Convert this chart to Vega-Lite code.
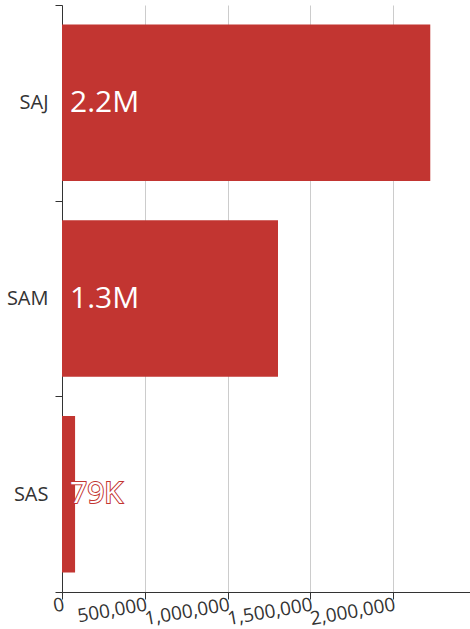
{
  "$schema": "https://vega.github.io/schema/vega-lite/v6.json",
  "width": 408,
  "height": 587,
  "autosize": "none",
  "padding": {"left": 62, "top": 5, "right": 0, "bottom": 37},
  "config": {"view": {"stroke": null}, "font": "Open Sans"},
  "data": {
    "values": [
      {"code": "SAJ", "value": 2225000, "label": "2.2M"},
      {"code": "SAM", "value": 1305000, "label": "1.3M"},
      {"code": "SAS", "value": 79000, "label": "79K"}
    ]
  },
  "encoding": {
    "y": {
      "field": "code",
      "type": "nominal",
      "sort": null,
      "scale": {"paddingInner": 0, "paddingOuter": 0},
      "axis": {
        "title": null,
        "tickBand": "extent",
        "ticks": true,
        "tickSize": 7,
        "tickColor": "#333",
        "domainColor": "#333",
        "labelFontSize": 20,
        "labelColor": "#333",
        "labelPadding": 7,
        "grid": false
      }
    }
  },
  "layer": [
    {
      "mark": {"type": "bar", "color": "#c23531", "height": {"band": 0.8}},
      "encoding": {
        "x": {
          "field": "value",
          "type": "quantitative",
          "scale": {"domain": [0, 2465000], "nice": false},
          "axis": {
            "title": null,
            "values": [0, 500000, 1000000, 1500000, 2000000],
            "format": ",d",
            "labelAngle": -10,
            "labelAlign": "right",
            "labelBaseline": "top",
            "labelFontSize": 19,
            "labelColor": "#333",
            "labelPadding": -4,
            "labelOverlap": false,
            "labelFlush": false,
            "labelBound": false,
            "domainColor": "#333",
            "tickColor": "#333",
            "tickSize": 7,
            "grid": true,
            "gridColor": "#ccc"
          }
        }
      }
    },
    {
      "mark": {
        "type": "text",
        "align": "left",
        "baseline": "middle",
        "dx": 8,
        "fontSize": 30,
        "fill": "#ffffff",
        "stroke": "#c23531",
        "strokeWidth": 2
      },
      "encoding": {
        "x": {"datum": 0, "type": "quantitative"},
        "text": {"field": "label"}
      }
    },
    {
      "mark": {
        "type": "text",
        "align": "left",
        "baseline": "middle",
        "dx": 8,
        "fontSize": 30,
        "fill": "#ffffff"
      },
      "encoding": {
        "x": {"datum": 0, "type": "quantitative"},
        "text": {"field": "label"}
      }
    }
  ]
}
